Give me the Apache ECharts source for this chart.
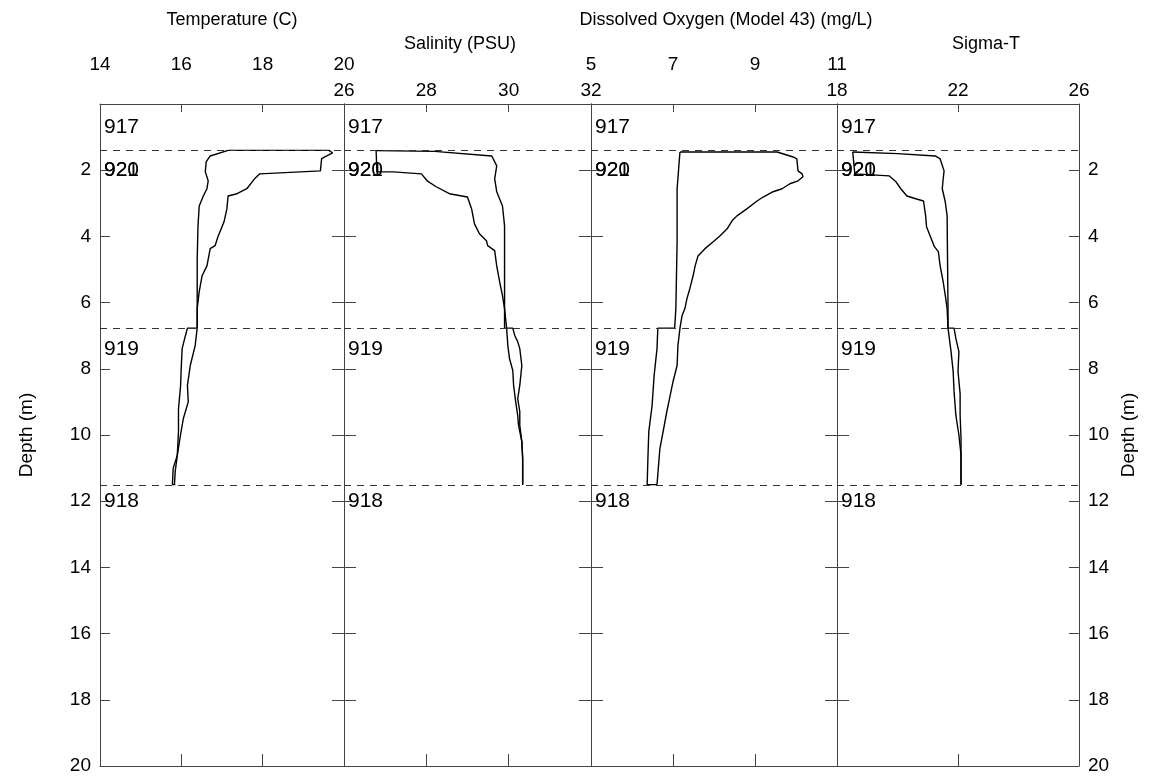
<!DOCTYPE html>
<html>
<head>
    <meta charset="UTF-8">
    <script type="text/javascript" src="https://cdn.jsdelivr.net/npm/echarts@6/dist/echarts.min.js"></script>
    <style type="text/css">
        *{
            margin: 0;
            padding: 0;
        }
        #main{
            width: 1149px;
            height: 784px;
            background: #fff;
        }
    </style>
</head>
<body>
<div id="main"></div>
<script type="text/javascript">
    // panel headings and x ranges (one panel per variable)
    var titles = ['Temperature (C)', 'Salinity (PSU)', 'Dissolved Oxygen (Model 43) (mg/L)', 'Sigma-T'];
    var axisMin = [14, 26, 5, 18];
    var axisMax = [20, 32, 11, 26];
    var axisStep = [2, 2, 2, 4];

    // station labels and the depths where the casts were joined
    var stationNames = ['917', '920', '921', '919', '918'];
    var stationDepths = [0.7, 2.0, 2.0, 7.4, 12.0];
    var castBreaks = [1.41, 6.77, 11.52];

    // [value, depth] - two traces per panel
    var tempA = [[17.15,1.40],[18.5,1.40],[19.63,1.40],[19.72,1.48],[19.6,1.55],[19.45,1.65],[19.42,2.02],[17.93,2.11],[17.8,2.26],[17.61,2.56],[17.37,2.71],[17.15,2.78],[17.12,3.17],[17.05,3.56],[16.9,4.01],[16.83,4.28],[16.71,4.37],[16.63,4.89],[16.51,5.19],[16.44,5.67],[16.39,6.18],[16.39,6.77],[16.34,7.3],[16.22,7.9],[16.15,8.5],[16.17,9.0],[16.05,9.5],[15.98,10.0],[15.9,10.62],[15.85,11.1],[15.83,11.5]];
    var tempB = [[17.15,1.40],[16.71,1.57],[16.61,1.75],[16.59,2.05],[16.66,2.32],[16.63,2.56],[16.54,2.78],[16.44,3.08],[16.41,3.68],[16.39,4.68],[16.39,6.18],[16.39,6.77],[16.15,6.77],[16.1,7.0],[16.02,7.39],[16.0,7.9],[15.98,8.54],[15.93,9.2],[15.93,9.89],[15.9,10.62],[15.8,11.0],[15.78,11.5],[15.85,11.5]];
    var salA = [[26.78,1.41],[28.2,1.43],[29.59,1.57],[29.71,1.87],[29.66,2.26],[29.71,2.65],[29.85,3.08],[29.9,3.68],[29.9,6.18],[29.9,6.77],[30.1,6.77],[30.15,7.0],[30.22,7.18],[30.27,7.39],[30.32,7.9],[30.27,8.5],[30.22,8.9],[30.27,9.29],[30.27,9.71],[30.32,10.2],[30.34,10.7],[30.34,11.5]];
    var salB = [[26.78,1.41],[26.8,2.05],[27.2,2.05],[27.88,2.11],[28.02,2.32],[28.24,2.5],[28.56,2.71],[29.0,2.81],[29.1,3.17],[29.17,3.62],[29.29,3.92],[29.46,4.13],[29.49,4.28],[29.66,4.43],[29.71,4.89],[29.78,5.37],[29.85,5.79],[29.9,6.18],[29.95,6.77],[29.98,7.3],[30.02,7.69],[30.1,8.05],[30.12,8.5],[30.17,8.99],[30.22,9.41],[30.24,9.71],[30.32,10.2],[30.34,10.7],[30.34,11.5]];
    var oxyA = [[7.17,1.45],[8.5,1.45],[9.54,1.45],[9.93,1.6],[10.02,1.66],[10.05,2.02],[10.15,2.11],[10.17,2.2],[10.05,2.32],[9.85,2.41],[9.66,2.56],[9.44,2.65],[9.2,2.81],[9.05,2.93],[8.8,3.17],[8.56,3.38],[8.44,3.53],[8.32,3.77],[8.15,3.98],[7.98,4.16],[7.78,4.37],[7.61,4.59],[7.54,4.89],[7.49,5.19],[7.41,5.58],[7.34,5.88],[7.29,6.18],[7.22,6.4],[7.17,6.77],[7.12,7.3],[7.1,7.9],[7.0,8.39],[6.93,8.81],[6.85,9.29],[6.76,9.89],[6.68,10.41],[6.61,11.5]];
    var oxyB = [[7.17,1.45],[7.15,1.75],[7.12,2.26],[7.1,2.56],[7.1,4.16],[7.07,6.18],[7.04,6.77],[6.63,6.77],[6.61,7.39],[6.54,8.2],[6.49,9.11],[6.41,9.89],[6.39,10.62],[6.37,11.5],[6.61,11.5]];
    var sigA = [[18.52,1.45],[20.0,1.5],[21.25,1.57],[21.41,1.66],[21.54,2.02],[21.51,2.26],[21.48,2.56],[21.58,2.96],[21.64,3.38],[21.67,6.18],[21.67,6.77],[21.87,6.77],[21.93,7.09],[22.03,7.48],[22.0,8.08],[22.07,8.75],[22.07,9.41],[22.1,10.1],[22.1,11.5]];
    var sigB = [[18.52,1.45],[18.59,2.11],[19.72,2.17],[19.95,2.35],[20.11,2.56],[20.31,2.78],[20.63,2.87],[20.86,2.93],[20.93,3.38],[20.96,3.71],[21.09,4.01],[21.22,4.31],[21.35,4.46],[21.41,4.89],[21.51,5.37],[21.58,5.79],[21.64,6.18],[21.67,6.77],[21.77,7.48],[21.84,8.08],[21.87,8.69],[21.93,9.41],[22.03,10.0],[22.1,10.6],[22.1,11.5]];

    var castsA = [tempA, salA, oxyA, sigA];
    var castsB = [tempB, salB, oxyB, sigB];

    var FONT = '"Liberation Sans", Arial, sans-serif';
    var INK = '#000';
    var FRAME = '#444';
    var panelLefts = [100, 344, 591, 837];
    var panelWidths = [244, 247, 246, 242];
    var panelTop = 104, panelH = 662;
    var labelRow = [0, 1, 0, 1];
    var titlePos = [[232, 11], [460, 35], [726, 11], [986, 35]];

    var grids = [], xAxes = [], yAxes = [], series = [], titleList = [];

    for (var i = 0; i < 4; i++) {
        grids.push({left: panelLefts[i], top: panelTop, width: panelWidths[i], height: panelH});

        titleList.push({
            text: titles[i], left: titlePos[i][0], top: titlePos[i][1], textAlign: 'center', padding: 0,
            textStyle: {fontSize: 18, fontWeight: 'normal', color: INK, fontFamily: FONT}
        });

        // top axis with labels, bottom axis just ticks
        xAxes.push({
            gridIndex: i, type: 'value', position: 'top',
            min: axisMin[i], max: axisMax[i], interval: axisStep[i],
            axisLine: {show: true, onZero: false, lineStyle: {color: FRAME, width: 1}},
            axisTick: {inside: true, length: 8, lineStyle: {color: FRAME}},
            axisLabel: {margin: labelRow[i] === 0 ? 30 : 4, fontSize: 19, color: INK, fontFamily: FONT},
            splitLine: {show: false}
        });
        xAxes.push({
            gridIndex: i, type: 'value', position: 'bottom',
            min: axisMin[i], max: axisMax[i], interval: axisStep[i],
            axisLine: {show: true, onZero: false, lineStyle: {color: FRAME, width: 1}},
            axisTick: {inside: true, length: 12, lineStyle: {color: FRAME}},
            axisLabel: {show: false},
            splitLine: {show: false}
        });

        yAxes.push({
            gridIndex: i, type: 'value', position: 'left', inverse: true,
            min: 0, max: 20, interval: 2,
            name: i === 0 ? 'Depth (m)' : '', nameLocation: 'middle', nameGap: 64, nameRotate: 90,
            nameTextStyle: {fontSize: 19, color: INK, fontFamily: FONT},
            axisLine: {show: true, onZero: false, lineStyle: {color: FRAME, width: 1}},
            axisTick: {inside: true, length: i === 0 ? 10 : 12, lineStyle: {color: FRAME}},
            axisLabel: {show: i === 0, showMinLabel: false, margin: 9, fontSize: 19, color: INK, fontFamily: FONT},
            splitLine: {show: false}
        });
        yAxes.push({
            gridIndex: i, type: 'value', position: 'right', inverse: true,
            min: 0, max: 20, interval: 2,
            name: i === 3 ? 'Depth (m)' : '', nameLocation: 'middle', nameGap: 40, nameRotate: 90,
            nameTextStyle: {fontSize: 19, color: INK, fontFamily: FONT},
            axisLine: {show: true, onZero: false, lineStyle: {color: FRAME, width: 1}},
            axisTick: {inside: true, length: i === 3 ? 10 : 12, lineStyle: {color: FRAME}},
            axisLabel: {show: i === 3, showMinLabel: false, margin: 9, fontSize: 19, color: INK, fontFamily: FONT},
            splitLine: {show: false}
        });

        series.push({
            type: 'line', xAxisIndex: 2 * i, yAxisIndex: 2 * i,
            data: castsA[i], showSymbol: false, silent: true,
            lineStyle: {color: INK, width: 1.4},
            markLine: {
                symbol: 'none', silent: true, label: {show: false},
                lineStyle: {color: '#333', type: [7, 6], width: 1},
                data: castBreaks.map(function (d) { return {yAxis: d}; })
            }
        });
        series.push({
            type: 'line', xAxisIndex: 2 * i, yAxisIndex: 2 * i,
            data: castsB[i], showSymbol: false, silent: true,
            lineStyle: {color: INK, width: 1.4}
        });
        series.push({
            type: 'scatter', xAxisIndex: 2 * i, yAxisIndex: 2 * i,
            symbolSize: 0, clip: false, silent: true,
            itemStyle: {color: INK},
            data: stationDepths.map(function (d, k) { return [axisMin[i], d, stationNames[k]]; }),
            label: {
                show: true, position: 'right', distance: 4, opacity: 1,
                formatter: function (p) { return p.data[2]; },
                fontSize: 21, color: INK, textBorderWidth: 0, fontFamily: FONT
            },
            emphasis: {disabled: true}
        });
    }

    var myChart = echarts.init(document.getElementById('main'));
    var option = {
        animation: false,
        backgroundColor: '#fff',
        title: titleList,
        grid: grids,
        xAxis: xAxes,
        yAxis: yAxes,
        series: series
    };
    myChart.setOption(option);
</script>
</body>
</html>
